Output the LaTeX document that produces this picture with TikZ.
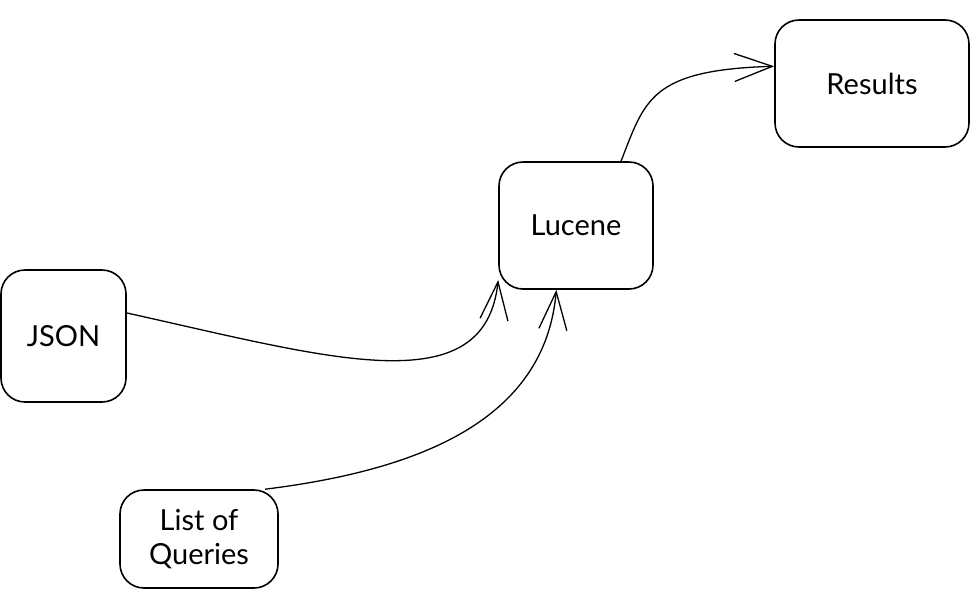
\documentclass[tikz,border=0pt]{standalone}
\usepackage{fontspec}
\setmainfont{Lato}
\usetikzlibrary{arrows.meta}
\tikzset{
  box/.style={draw, line width=1.6pt, rounded corners=24pt, inner sep=0pt,
    font=\fontsize{29}{34}\selectfont, align=center},
  flow/.style={line width=1.3pt, -{Straight Barb[length=38pt, width=28pt, line width=1.3pt]}}
}
\begin{document}
\begin{tikzpicture}[x=1pt, y=-1pt]
      \useasboundingbox (0,0) rectangle (980,595);
      \node[box, minimum width=125pt, minimum height=132pt] (json) at (63.5,336) {JSON};
      \node[box, minimum width=158pt, minimum height=98pt] (queries) at (199,539) {List of\\Queries};
      \node[box, minimum width=154pt, minimum height=127pt] (lucene) at (576,225.5) {Lucene};
      \node[box, minimum width=194pt, minimum height=127pt] (results) at (872,83.5) {Results};
      \begin{scope}[flow]
        \draw (json.20) .. controls (330,358) and (485,405) .. (lucene.-145);
        \draw (queries.37) .. controls (420,470) and (545,420) .. (lucene.-107);
        \draw (lucene.55) .. controls (645,100) and (650,70) .. (results.170);
      \end{scope}
    \end{tikzpicture}
\end{document}
